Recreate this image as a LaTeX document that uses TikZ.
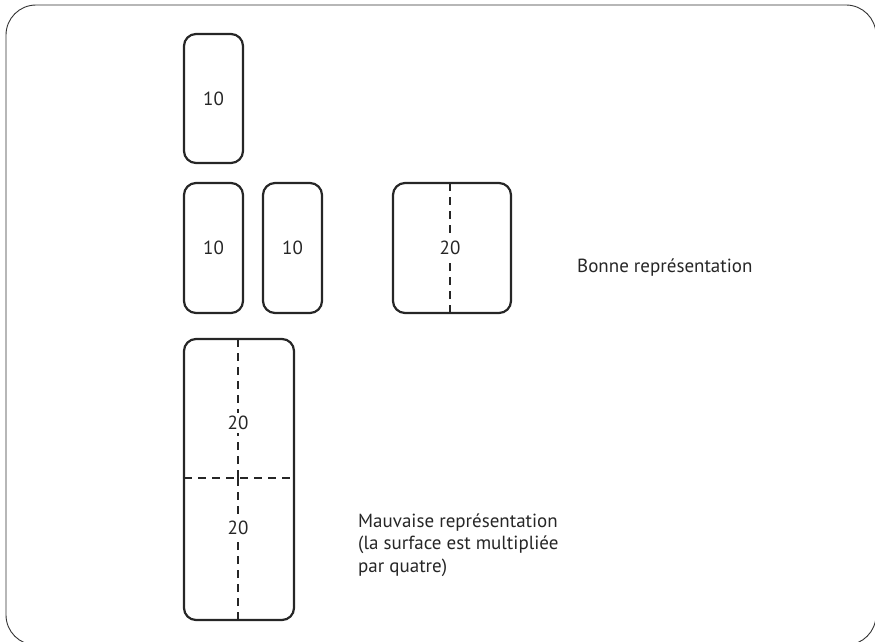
\documentclass[tikz,border=0pt]{standalone}
\usepackage{fontspec}
\setmainfont{PT Sans}
\begin{document}
\begin{tikzpicture}[x=1pt,y=-1pt,
  card/.style={draw=black!85,line width=2.2pt,rounded corners=12pt},
  cut/.style={draw=black!85,line width=2pt,dash pattern=on 8pt off 6pt},
  num/.style={font=\fontsize{19}{22}\selectfont,text=black!85,inner sep=3pt},
  lbl/.style={font=\fontsize{19}{22.5}\selectfont,text=black!85,align=left,anchor=west,inner sep=0pt}]
\useasboundingbox (0,0) rectangle (875,642);
\draw[black!80,line width=0.9pt,rounded corners=30pt] (6,5) rectangle (876,645);
% cards
\draw[card] (184,34) rectangle (243,163);
\node[num] (a) at (213.5,98.5) {10};
\draw[card] (184,183) rectangle (243,313);
\node[num] (b) at (213.5,248) {10};
\draw[card] (263,183) rectangle (322,313);
\node[num] (c) at (292.5,248) {10};
\draw[card] (393,183) rectangle (511,313);
\node[num] (d) at (450,248) {20};
\coordinate (dt) at (450,183);
\coordinate (db) at (450,313);
\draw[cut] (dt) -- (d.north);
\draw[cut] (db) -- (d.south);
\draw[card] (184,339) rectangle (294,620);
\node[num] (e1) at (238,423) {20};
\node[num] (e2) at (238,528) {20};
\coordinate (et) at (238,339);
\coordinate (em) at (238,478);
\coordinate (eb) at (238,620);
\coordinate (el) at (184,478);
\coordinate (er) at (294,478);
\draw[cut] (et) -- (e1.north);
\draw[cut] (em) -- (e1.south);
\draw[cut] (em) -- (e2.north);
\draw[cut] (eb) -- (e2.south);
\draw[cut] (el) -- (er);
\node[lbl] (good) at (577,268) {Bonne représentation};
\node[lbl] (bad) at (358,545) {Mauvaise représentation\\(la surface est multipliée\\par quatre)};
\end{tikzpicture}
\end{document}
